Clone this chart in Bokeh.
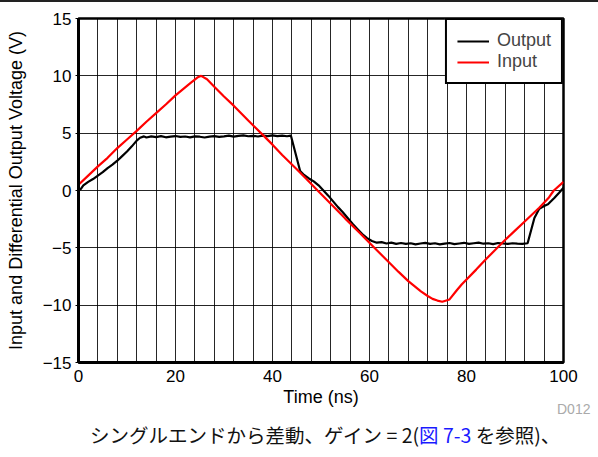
from bokeh.plotting import figure
from bokeh.models import FixedTicker, Legend, LegendItem, Div, Range1d
from bokeh.layouts import column
from bokeh.embed import file_html
from bokeh.resources import INLINE

# ---- data ----
out_t = [0, 0.5, 1, 2, 3, 4, 5, 6, 7, 8, 9, 10, 11, 12, 12.7, 13.5, 14, 15, 16, 17, 18, 19, 20,
         21, 22, 23, 24, 25, 26, 27, 28, 29, 30, 31, 32, 33, 34, 35, 36, 37, 38, 39, 40, 41, 42,
         43, 43.8, 45.7, 46.5, 47.5, 48.5, 49.5, 50.5, 51.5, 52.5, 53.5, 54.5, 55.5, 56.5, 57.5,
         58.5, 59.5, 60.5, 61.5, 62.5, 63.5, 64.5, 65.5, 66.5, 67.5, 68.5, 69.5, 70.5, 71.5, 72.5,
         73.5, 74.5, 75.5, 76.5, 77.5, 78.5, 79.5, 80.5, 81.5, 82.5, 83.5, 84.5, 85.5, 86.5, 87.5,
         88.5, 89.5, 90.5, 91.5, 92.6, 94.0, 95.0, 96.0, 96.8, 98.1, 99.1, 100]
out_v = [0.0, 0.15, 0.45, 0.75, 1.0, 1.3, 1.6, 1.95, 2.25, 2.6, 3.0, 3.4, 3.85, 4.35, 4.6, 4.72,
         4.62, 4.72, 4.66, 4.74, 4.64, 4.7, 4.75, 4.67, 4.71, 4.63, 4.72, 4.69, 4.62, 4.7, 4.74,
         4.67, 4.72, 4.78, 4.7, 4.76, 4.8, 4.73, 4.77, 4.71, 4.79, 4.74, 4.8, 4.75, 4.79, 4.73,
         4.78, 1.7, 1.35, 1.05, 0.8, 0.45, 0.0, -0.45, -0.95, -1.45, -1.9, -2.4, -2.9, -3.35,
         -3.8, -4.15, -4.4, -4.55, -4.5, -4.62, -4.55, -4.65, -4.58, -4.66, -4.6, -4.7, -4.62,
         -4.57, -4.66, -4.6, -4.7, -4.63, -4.58, -4.68, -4.62, -4.56, -4.66, -4.6, -4.55, -4.64,
         -4.6, -4.68, -4.58, -4.62, -4.66, -4.6, -4.63, -4.65, -4.6, -2.4, -1.6, -1.35, -1.2,
         -0.65, -0.2, 0.25]

in_t = [0, 2, 4, 6, 8, 10, 12, 14, 16, 18, 20, 22, 23, 24.5, 25.3, 26.5, 28, 30, 32, 35, 38,
        40, 42, 45, 47, 49.3, 52, 55, 58, 61, 64, 66, 68, 70.6, 72, 73, 74, 75, 76.5, 78, 79,
        82, 84, 86, 88, 90, 92, 95, 97, 98, 100]
in_v = [0.5, 1.3, 2.1, 2.85, 3.7, 4.45, 5.2, 6.0, 6.75, 7.5, 8.3, 9.0, 9.35, 9.85, 10.0, 9.7,
        9.05, 8.2, 7.4, 6.1, 4.85, 4.0, 3.1, 1.85, 1.0, 0.0, -1.15, -2.45, -3.7, -5.0, -6.25,
        -7.1, -7.9, -8.8, -9.2, -9.45, -9.6, -9.7, -9.5, -8.7, -8.2, -6.9, -6.0, -5.15, -4.3,
        -3.5, -2.7, -1.5, -0.6, 0.0, 0.75]

x_ticks = [0, 20, 40, 60, 80, 100]
y_ticks = [-15, -10, -5, 0, 5, 10, 15]
x_grid = list(range(0, 101, 4))

FONT = "Liberation Sans"

p = figure(width=598, height=417, output_backend="svg", toolbar_location=None,
           x_range=Range1d(0, 100), y_range=Range1d(-15, 15),
           min_border_left=78, min_border_right=35, min_border_top=16, min_border_bottom=57)
p.background_fill_color = "white"
p.border_fill_color = "white"
p.outline_line_color = "black"
p.outline_line_width = 2.5

p.xaxis.ticker = FixedTicker(ticks=x_ticks)
p.yaxis.ticker = FixedTicker(ticks=y_ticks)
p.xgrid.ticker = FixedTicker(ticks=x_grid)
p.ygrid.ticker = FixedTicker(ticks=y_ticks)
for g in (p.xgrid, p.ygrid):
    g.grid_line_color = "black"
    g.grid_line_width = 1
    g.grid_line_alpha = 0.85

for ax in (p.xaxis, p.yaxis):
    ax.axis_line_width = 3
    ax.axis_line_color = "black"
    ax.minor_tick_line_color = None
    ax.major_label_text_font = FONT
    ax.major_label_text_font_size = "17px"
    ax.major_label_text_color = "black"
    ax.axis_label_text_font = FONT
    ax.axis_label_text_font_size = "18px"
    ax.axis_label_text_font_style = "normal"
    ax.axis_label_text_color = "black"

p.xaxis.major_tick_out = 0
p.xaxis.major_tick_in = 0
p.xaxis.major_label_standoff = 7
p.xaxis.axis_label = "Time (ns)"
p.xaxis.axis_label_standoff = 2

p.yaxis.major_tick_out = 3
p.yaxis.major_tick_in = 0
p.yaxis.major_tick_line_color = "black"
p.yaxis.major_label_standoff = 4
p.yaxis.axis_label = "Input and Differential Output Voltage (V)"
p.yaxis.axis_label_standoff = 14

r_out = p.line(out_t, out_v, line_color="black", line_width=2.2)
r_in = p.line(in_t, in_v, line_color="#ff0000", line_width=2.2)

legend = Legend(items=[LegendItem(label="Output", renderers=[r_out]),
                       LegendItem(label="Input", renderers=[r_in])],
                location="top_right", margin=0, padding=10, spacing=0,
                label_height=20, glyph_height=20, glyph_width=32, label_standoff=8,
                label_text_font=FONT, label_text_font_size="18px",
                border_line_color="black", border_line_width=2.5, border_line_alpha=1.0,
                background_fill_color="white", background_fill_alpha=1.0)
p.add_layout(legend)

rule = Div(width=598, height=2, margin=0,
           styles={"background-color": "#222222", "width": "598px", "height": "2px"})

caption = Div(width=598, height=38, margin=0,
              text=('<div style="position:relative;width:598px;height:38px;">'
                    '<div style="position:absolute;left:557px;top:-18px;font-family:\'Liberation Sans\';'
                    'font-size:14px;line-height:16px;color:#aaaaaa;">D012</div>'
                    '<div style="position:absolute;left:90px;top:5px;white-space:nowrap;'
                    'font-family:\'Noto Sans CJK JP\';font-size:19.5px;line-height:22px;color:#111;">'
                    'シングルエンドから差動、ゲイン = 2(<span style="color:#1a1aff;">図 7-3</span> を参照)、'
                    '</div></div>'))

layout = column(rule, p, caption, spacing=0)
open("out.html", "w").write(file_html(layout, INLINE))
